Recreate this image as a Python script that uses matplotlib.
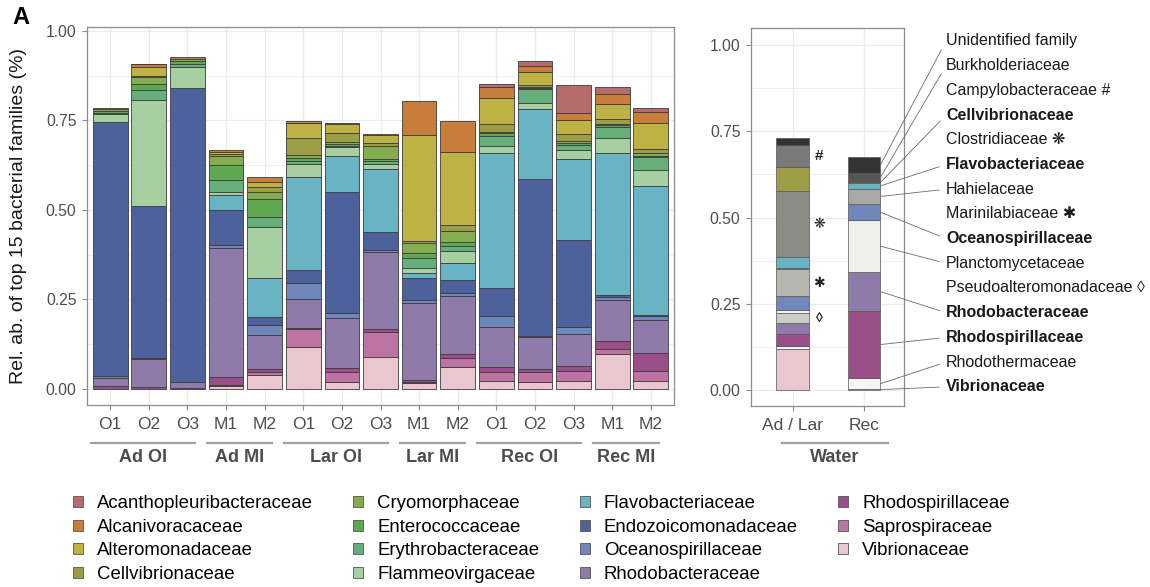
import numpy as np
import matplotlib
matplotlib.use("Agg")
import matplotlib.pyplot as plt
from matplotlib.patches import Patch

plt.rcParams['font.family'] = ['Liberation Sans', 'DejaVu Sans']

# ---- data: panel A, top 15 families per sample ----
samples = ['O1', 'O2', 'O3', 'M1', 'M2', 'O1', 'O2', 'O3', 'M1', 'M2',
           'O1', 'O2', 'O3', 'M1', 'M2']
groups = ['Ad OI', 'Ad MI', 'Lar OI', 'Lar MI', 'Rec OI', 'Rec MI']
group_sizes = [3, 2, 3, 2, 3, 2]

families = ['Acanthopleuribacteraceae', 'Alcanivoracaceae', 'Alteromonadaceae',
            'Cellvibrionaceae', 'Cryomorphaceae', 'Enterococcaceae',
            'Erythrobacteraceae', 'Flammeovirgaceae', 'Flavobacteriaceae',
            'Endozoicomonadaceae', 'Oceanospirillaceae', 'Rhodobacteraceae',
            'Rhodospirillaceae', 'Saprospiraceae', 'Vibrionaceae']
fam_colors = ['#B86B6B', '#C87D3A', '#BFB244', '#9C9D45', '#84AD50', '#5EA94F',
              '#66AE7A', '#A6D0A2', '#68B3C4', '#4D629D', '#6F87BA', '#8E7BAA',
              '#9A4F8B', '#BD74A5', '#EAC6CE']

acantho = [0, 0.002, 0, 0, 0, 0, 0, 0, 0, 0, 0.007, 0.012, 0.077, 0.020, 0.012]
alcani = [0, 0.008, 0.005, 0.004, 0.013, 0.005, 0.004, 0.003, 0.096, 0.088, 0.032, 0.018, 0.022, 0.028, 0.029]
altero = [0, 0.024, 0, 0.007, 0.014, 0.040, 0.023, 0.020, 0.294, 0.203, 0.072, 0.037, 0.038, 0.041, 0.075]
cellvib = [0.003, 0.004, 0.002, 0.006, 0.014, 0.048, 0.025, 0.009, 0.007, 0.016, 0.023, 0.005, 0.019, 0.014, 0.009]
cryo = [0.004, 0.018, 0.006, 0.025, 0.019, 0.009, 0.006, 0.037, 0.028, 0.031, 0.003, 0.002, 0.005, 0.004, 0.008]
entero = [0.006, 0.019, 0.008, 0.042, 0.051, 0.008, 0.006, 0.005, 0.012, 0.011, 0.007, 0.003, 0.007, 0.004, 0.004]
erythro = [0.004, 0.028, 0.008, 0.033, 0.029, 0.009, 0.004, 0.008, 0.030, 0.015, 0.028, 0.039, 0.014, 0.033, 0.037]
flammeo = [0.022, 0.295, 0.058, 0.009, 0.140, 0.036, 0.024, 0.014, 0.014, 0.033, 0.021, 0.017, 0.025, 0.042, 0.043]
flavo = [0, 0, 0, 0.040, 0.109, 0.260, 0.102, 0.177, 0.014, 0.048, 0.375, 0.195, 0.226, 0.395, 0.362]
endozo = [0.710, 0.425, 0.821, 0.098, 0.023, 0.036, 0.337, 0.050, 0.060, 0.035, 0.079, 0.438, 0.242, 0.005, 0.002]
oceano = [0.005, 0.003, 0, 0.009, 0.028, 0.044, 0.013, 0.006, 0.010, 0.009, 0.030, 0.004, 0.021, 0.009, 0.012]
rhodobac = [0.022, 0.079, 0.017, 0.360, 0.095, 0.082, 0.141, 0.215, 0.214, 0.163, 0.114, 0.089, 0.089, 0.114, 0.091]
rhodospir = [0.008, 0.004, 0.003, 0.022, 0.008, 0.004, 0.012, 0.007, 0.006, 0.012, 0.012, 0.010, 0.013, 0.023, 0.050]
sapro = [0, 0, 0, 0.005, 0.009, 0.050, 0.028, 0.070, 0.003, 0.023, 0.025, 0.028, 0.029, 0.015, 0.028]
vib = [0, 0, 0, 0.007, 0.039, 0.116, 0.018, 0.090, 0.016, 0.062, 0.023, 0.018, 0.022, 0.097, 0.023]
fam_values = [acantho, alcani, altero, cellvib, cryo, entero, erythro, flammeo,
              flavo, endozo, oceano, rhodobac, rhodospir, sapro, vib]

# ---- data: water samples ----
water_samples = ['Ad / Lar', 'Rec']
water_fams = ['Unidentified family', 'Burkholderiaceae', 'Campylobacteraceae',
              'Cellvibrionaceae', 'Clostridiaceae', 'Flavobacteriaceae', 'Hahielaceae',
              'Marinilabiaceae', 'Oceanospirillaceae', 'Planctomycetaceae',
              'Pseudoalteromonadaceae', 'Rhodobacteraceae', 'Rhodospirillaceae',
              'Rhodothermaceae', 'Vibrionaceae']
water_colors = ['#333333', '#565656', '#7A7A78', '#9C9D45', '#8A8B85', '#68B3C4',
                '#A8A8A4', '#B6B7B1', '#6F87BA', '#EFEFED', '#CBCCC4', '#8E7BAA',
                '#9A4F8B', '#F5F5F3', '#EAC6CE']
water_adlar = [0.019, 0.002, 0.064, 0.067, 0.193, 0.032, 0.003, 0.078, 0.040,
               0.010, 0.029, 0.029, 0.037, 0.009, 0.118]
water_rec = [0.048, 0.024, 0, 0.005, 0, 0.015, 0.046, 0, 0.045,
             0.152, 0, 0.111, 0.196, 0.031, 0.003]
water_bold = ['Cellvibrionaceae', 'Flavobacteriaceae', 'Oceanospirillaceae',
              'Rhodobacteraceae', 'Rhodospirillaceae', 'Vibrionaceae']
water_marks = {'Campylobacteraceae': '#', 'Clostridiaceae': '\u274b',
               'Marinilabiaceae': '\u2731', 'Pseudoalteromonadaceae': '\u25ca'}

W, H = 1150, 587
fig = plt.figure(figsize=(W / 100, H / 100), dpi=100)
txt_col = '#4D4D4D'
edge = '#3C3C3C'
grid_col = '#EBEBEB'


def px_axes(x0, y0, x1, y1):
    return fig.add_axes([x0 / W, 1 - y1 / H, (x1 - x0) / W, (y1 - y0) / H])


def style_axes(a):
    a.set_axisbelow(True)
    for s in a.spines.values():
        s.set_color('#8C8C8C')
        s.set_linewidth(0.9)
    a.tick_params(colors='#8C8C8C', length=3.5, width=0.8, labelcolor=txt_col)
    a.grid(True, which='major', color=grid_col, lw=0.9)
    a.grid(True, which='minor', axis='y', color=grid_col, lw=0.5)


# ---- left panel ----
ax = px_axes(87, 27, 674, 405)
style_axes(ax)
x = np.arange(len(samples))
bottom = np.zeros(len(samples))
for name, col, vals in reversed(list(zip(families, fam_colors, fam_values))):
    v = np.array(vals)
    m = v > 0
    ax.bar(x[m], v[m], 0.9, bottom=bottom[m], color=col, edgecolor=edge, lw=0.6)
    bottom += v
ax.set_xlim(-0.6, len(samples) - 0.4)
ax.set_ylim(-0.045, 1.011)
ax.set_yticks([0, 0.25, 0.5, 0.75, 1.0], ['0.00', '0.25', '0.50', '0.75', '1.00'])
ax.set_yticks([0.125, 0.375, 0.625, 0.875], minor=True)
ax.tick_params(axis='y', which='minor', length=0)
ax.set_xticks(x, samples)
ax.tick_params(axis='x', labelsize=12.5, pad=5)
ax.tick_params(axis='y', labelsize=11.3, pad=4)

# group brackets under the tick labels
line_y = -(442.7 - 405) / 378
lab_y = -(457 - 405) / 378
start = 0
for g, n in zip(groups, group_sizes):
    x0, x1 = start - 0.5, start + n - 1 + 0.2
    ax.plot([x0, x1], [line_y, line_y], transform=ax.get_xaxis_transform(),
            color='#A0A0A0', lw=1.6, clip_on=False)
    ax.text((x0 + x1) / 2, lab_y, g, transform=ax.get_xaxis_transform(),
            ha='center', va='center', fontsize=13, fontweight='bold', color=txt_col)
    start += n

fig.text(19 / W, 1 - 216 / H, 'Rel. ab. of top 15 bacterial families (%)',
         rotation=90, ha='center', va='center', fontsize=14, color='#1A1A1A')
fig.text(12 / W, 1 - 18 / H, 'A', fontsize=17, fontweight='bold', ha='left', va='center')

# ---- right panel (water) ----
ax2 = px_axes(751, 28, 904, 406)
style_axes(ax2)
xw = np.arange(len(water_samples))
bw = 0.46
cols_vals = list(zip(water_fams, water_colors, water_adlar, water_rec))
bot = np.zeros(2)
mids = {}
for name, col, a, r in reversed(cols_vals):
    v = np.array([a, r])
    m = v > 0
    ax2.bar(xw[m], v[m], bw, bottom=bot[m], color=col, edgecolor='#555555', lw=0.5)
    mids[name] = bot + v / 2
    bot += v
ax2.set_xlim(-0.585, 1.561)
ax2.set_ylim(-0.046, 1.049)
ax2.set_yticks([0, 0.25, 0.5, 0.75, 1.0], ['0.00', '0.25', '0.50', '0.75', '1.00'])
ax2.set_yticks([0.125, 0.375, 0.625, 0.875], minor=True)
ax2.tick_params(axis='y', which='minor', length=0)
ax2.set_xticks(xw, water_samples)
ax2.tick_params(axis='x', labelsize=12.5, pad=5)
ax2.tick_params(axis='y', labelsize=11.3, pad=4)

wl_y = -(442.7 - 406) / 378
wt_y = -(457 - 406) / 378
ax2.plot([-0.15, 1.33], [wl_y, wl_y], transform=ax2.get_xaxis_transform(),
         color='#A0A0A0', lw=1.6, clip_on=False)
ax2.text(0.59, wt_y, 'Water', transform=ax2.get_xaxis_transform(),
         ha='center', va='center', fontsize=13, fontweight='bold', color=txt_col)

# marks beside the Ad / Lar bar
for name, mk in water_marks.items():
    ax2.text(0.37, mids[name][0], mk, ha='center', va='center',
             fontsize=11 if mk == '#' else 10, fontweight='bold', color='#222222')

# labels on the right with leader lines to the Rec bar
for i, (name, col, a, r) in enumerate(cols_vals):
    ty = 1 - (41 + i * 24.7) / H
    label = name + (' ' + water_marks[name] if name in water_marks else '')
    weight = 'bold' if name in water_bold else 'normal'
    if r > 0:
        ax2.annotate(label, xy=(1 + bw / 2, mids[name][1]), xycoords='data',
                     xytext=(946 / W, ty), textcoords='figure fraction',
                     ha='left', va='center', fontsize=11.5, fontweight=weight,
                     color='#1A1A1A', annotation_clip=False,
                     arrowprops=dict(arrowstyle='-', color='#6A6A6A', lw=0.6,
                                     relpos=(0, 0.5), shrinkA=3, shrinkB=0))
    else:
        fig.text(946 / W, ty, label, ha='left', va='center', fontsize=11.5,
                 fontweight=weight, color='#1A1A1A')

# ---- legend ----
handles = [Patch(facecolor=c, edgecolor='#555555', lw=0.6) for c in fam_colors]
fig.legend(handles, families, ncol=4, loc='upper left',
           bbox_to_anchor=(73 / W, 1 - 495 / H), frameon=False, fontsize=13.4,
           handlelength=0.55, handleheight=0.55, handletextpad=0.75,
           columnspacing=2.15, labelspacing=0.36, borderpad=0, borderaxespad=0)

fig.savefig('out.png', dpi=100)
